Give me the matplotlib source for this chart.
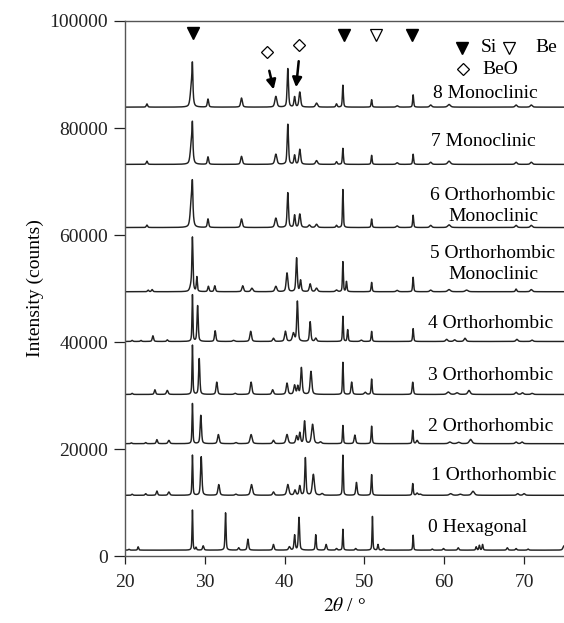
import numpy as np
import matplotlib
matplotlib.use("Agg")
import matplotlib.pyplot as plt

plt.rcParams['font.family'] = ['Liberation Serif', 'DejaVu Serif']
plt.rcParams['mathtext.fontset'] = 'stix'

# peaks for each pattern: (2theta, height above baseline, fwhm)
p0 = [(20.5, 150, .2), (21.65, 620, .15), (28.45, 7500, .12), (28.9, 500, .15), (29.8, 800, .2),
      (32.6, 7000, .15), (34.25, 440, .2), (35.4, 2050, .2), (38.6, 1060, .2), (40.6, 620, .25),
      (41.25, 2800, .18), (41.8, 6100, .18), (43.9, 2900, .15), (45.2, 1060, .2), (46.5, 300, .2),
      (47.3, 3900, .12), (48.9, 300, .2), (51.0, 6300, .12), (51.7, 1060, .15), (52.4, 300, .2),
      (56.1, 2800, .12), (58.5, 200, .2), (59.9, 300, .2), (61.75, 440, .2), (64.0, 620, .15),
      (64.4, 900, .15), (64.8, 1060, .15), (67.9, 440, .2), (69.0, 300, .2), (70.5, 200, .2),
      (75.0, 800, .3)]
p1 = [(20.9, 200, .2), (22.6, 300, .2), (24.0, 800, .2), (25.5, 620, .25), (28.45, 7500, .13),
      (29.55, 7200, .2), (31.75, 2000, .25), (33.9, 200, .3), (35.85, 2000, .3), (38.6, 620, .25),
      (40.4, 2000, .3), (41.3, 940, .25), (41.9, 1750, .22), (42.6, 7000, .18), (43.6, 3900, .3),
      (44.7, 300, .3), (47.3, 7500, .13), (49.0, 2400, .2), (50.9, 3900, .15), (56.05, 2200, .15),
      (56.6, 400, .25), (57.0, 200, .3), (60.8, 300, .4), (62.0, 200, .4), (63.6, 750, .4),
      (69.2, 300, .3), (70.0, 300, .3)]
p2 = [(20.8, 150, .2), (22.6, 200, .2), (24.0, 750, .2), (25.5, 620, .25), (28.45, 7500, .13),
      (29.5, 5300, .2), (31.7, 1700, .25), (33.9, 200, .3), (35.8, 1700, .3), (38.6, 620, .25),
      (40.3, 1700, .3), (41.5, 1400, .25), (41.9, 2000, .22), (42.5, 4200, .22), (43.5, 3600, .3),
      (44.5, 300, .3), (47.3, 3400, .13), (48.8, 1600, .22), (50.9, 3300, .15), (56.05, 2500, .15),
      (56.6, 600, .25), (60.7, 300, .4), (61.8, 250, .4), (63.3, 800, .4), (69.0, 300, .3),
      (69.75, 300, .3)]
p3 = [(20.9, 200, .2), (23.75, 870, .2), (25.3, 750, .25), (28.45, 9200, .13), (29.3, 6700, .18),
      (31.5, 2300, .22), (33.8, 200, .3), (35.8, 2300, .25), (38.5, 870, .25), (40.3, 2100, .25),
      (41.25, 1700, .25), (41.65, 1500, .2), (42.1, 5000, .22), (43.3, 4300, .25), (47.3, 6000, .13),
      (48.4, 2300, .2), (50.1, 400, .3), (50.9, 2900, .15), (56.05, 2300, .18), (60.5, 450, .4),
      (61.6, 300, .4), (63.1, 750, .35), (69.0, 400, .3), (69.8, 300, .3), (71.0, 200, .3)]
p4 = [(20.9, 200, .2), (22.0, 200, .2), (23.5, 1060, .2), (25.3, 300, .2), (28.45, 8700, .13),
      (29.1, 6700, .18), (31.3, 2000, .2), (33.6, 200, .3), (35.75, 1900, .25), (38.6, 600, .25),
      (40.1, 1900, .25), (41.1, 1500, .3), (41.6, 7500, .2), (43.2, 3700, .2), (43.9, 600, .25),
      (47.3, 4700, .13), (47.9, 2200, .15), (49.6, 250, .3), (50.9, 1900, .15), (56.1, 2400, .15),
      (60.3, 400, .3), (61.3, 300, .3), (62.6, 600, .3), (69.1, 400, .3), (71.0, 250, .3)]
p5 = [(22.9, 300, .2), (23.4, 400, .2), (28.45, 9000, .15), (28.35, 1500, .4), (29.0, 2700, .15),
      (30.45, 1000, .2), (31.25, 1100, .2), (34.75, 1100, .25), (35.9, 650, .3), (38.9, 1000, .3),
      (40.3, 3500, .25), (41.5, 6300, .2), (42.0, 2100, .2), (43.2, 1450, .25), (44.0, 650, .3),
      (46.5, 300, .3), (47.3, 5600, .13), (47.75, 1900, .15), (50.9, 1750, .15), (54.1, 250, .3),
      (56.1, 2700, .15), (58.3, 300, .3), (60.6, 400, .4), (62.8, 300, .4), (69.0, 500, .2),
      (70.9, 400, .3)]
p6 = [(22.75, 450, .2), (28.35, 6000, .35), (28.45, 4200, .12), (30.4, 1600, .2), (34.6, 1600, .25),
      (38.9, 1750, .3), (40.4, 6500, .2), (41.25, 2300, .2), (41.9, 2500, .25), (43.1, 450, .3),
      (44.0, 600, .3), (46.5, 400, .2), (47.3, 7100, .13), (50.9, 1600, .15), (54.1, 300, .3),
      (56.1, 2300, .15), (58.3, 400, .3), (60.6, 500, .4), (69.0, 400, .3), (70.9, 400, .3)]
p7 = [(22.75, 600, .2), (28.35, 4500, .35), (28.45, 4600, .12), (30.4, 1400, .2), (34.6, 1500, .25),
      (38.9, 1900, .3), (40.4, 7500, .2), (41.25, 1700, .2), (41.9, 2800, .25), (44.0, 700, .3),
      (46.5, 500, .2), (47.3, 3000, .15), (50.9, 1700, .15), (54.1, 300, .3), (56.1, 1900, .15),
      (58.3, 400, .3), (60.6, 600, .4), (69.0, 400, .3), (70.9, 400, .3)]
p8 = [(22.75, 600, .2), (28.35, 4500, .35), (28.45, 5000, .12), (30.4, 1500, .2), (34.6, 1700, .25),
      (38.9, 2000, .3), (40.4, 7200, .2), (41.25, 1900, .2), (41.9, 2800, .25), (44.0, 750, .3),
      (46.5, 600, .2), (47.3, 4100, .15), (50.9, 1400, .15), (54.1, 250, .3), (56.1, 2300, .15),
      (58.3, 400, .3), (60.6, 500, .4), (69.0, 400, .3), (70.9, 400, .3)]

patterns = [p0, p1, p2, p3, p4, p5, p6, p7, p8]
baselines = [1100, 11350, 21000, 30200, 40100, 49400, 61400, 73200, 83900]

labels = ['0 Hexagonal', '1 Orthorhombic', '2 Orthorhombic', '3 Orthorhombic',
          '4 Orthorhombic', '5 Orthorhombic\nMonoclinic', '6 Orthorhombic\nMonoclinic',
          '7 Monoclinic', '8 Monoclinic']
label_x = [57.9, 58.3, 57.9, 57.9, 57.9, 66.1, 66.1, 58.3, 58.6]
label_y = [5300, 15000, 24300, 33800, 43400, 54600, 65500, 77400, 86500]

si_pos = [28.5, 47.4, 56.0]
si_y = [97700, 97400, 97400]
be_pos = [51.4]
be_y = [97400]
beo_pos = [37.75, 41.75]
beo_y = [94200, 95500]


def profile(x, peaks):
    y = np.zeros_like(x)
    for c, h, w in peaks:
        d = (x - c) / (w / 2)
        y += h * (0.5 / (1 + d ** 2) + 0.5 * np.exp(-np.log(2) * d ** 2))
    return y


x = np.linspace(20, 75, 3001)

fig = plt.figure(figsize=(5.64, 6.23), dpi=100)
ax = fig.add_axes([0.2216, 0.1075, 0.7784, 0.8588])

for peaks, base in zip(patterns, baselines):
    ax.plot(x, base + profile(x, peaks), color='#222222', lw=1.05)

for lab, lx, ly in zip(labels, label_x, label_y):
    ha = 'center' if '\n' in lab else 'left'
    ax.text(lx, ly, lab, ha=ha, va='center', fontsize=14, linespacing=1.3,
            multialignment='center')

# phase markers above the patterns
ax.plot(si_pos, si_y, 'v', color='k', ms=8, clip_on=False)
ax.plot(be_pos, be_y, 'v', mfc='white', mec='k', mew=0.9, ms=8)
ax.plot(beo_pos, beo_y, 'D', mfc='white', mec='k', mew=0.9, ms=6.5)
ax.annotate('', xy=(38.7, 86700), xytext=(38.0, 91200),
            arrowprops=dict(arrowstyle='-|>', color='k', lw=1.8, mutation_scale=14))
ax.annotate('', xy=(41.4, 87100), xytext=(41.8, 93000),
            arrowprops=dict(arrowstyle='-|>', color='k', lw=1.8, mutation_scale=14))

# key
ax.plot([62.2], [95000], 'v', color='k', ms=8)
ax.text(64.6, 95000, 'Si', va='center', fontsize=14)
ax.plot([68.1], [95000], 'v', mfc='white', mec='k', mew=0.9, ms=8)
ax.text(71.4, 95000, 'Be', va='center', fontsize=14)
ax.plot([62.4], [91000], 'D', mfc='white', mec='k', mew=0.9, ms=6.5)
ax.text(64.8, 91000, 'BeO', va='center', fontsize=14)

ax.set_xlim(20, 75)
ax.set_ylim(0, 100000)
ax.set_xticks([20, 30, 40, 50, 60, 70])
ax.set_yticks([0, 20000, 40000, 60000, 80000, 100000])
ax.tick_params(axis='y', direction='out', length=8, width=0.9, pad=4, labelsize=14, colors='#222222')
ax.tick_params(axis='x', direction='out', length=6, width=0.9, pad=7, labelsize=14, colors='#222222')
for side in ['left', 'bottom', 'top']:
    ax.spines[side].set_color('#555555')
    ax.spines[side].set_linewidth(1.0)
ax.spines['right'].set_visible(False)

ax.set_ylabel('Intensity (counts)', fontsize=14, labelpad=4)
ax.set_xlabel(r'$\mathit{2}\theta$ / °', fontsize=14, labelpad=4)

fig.savefig('out.png', dpi=100)
